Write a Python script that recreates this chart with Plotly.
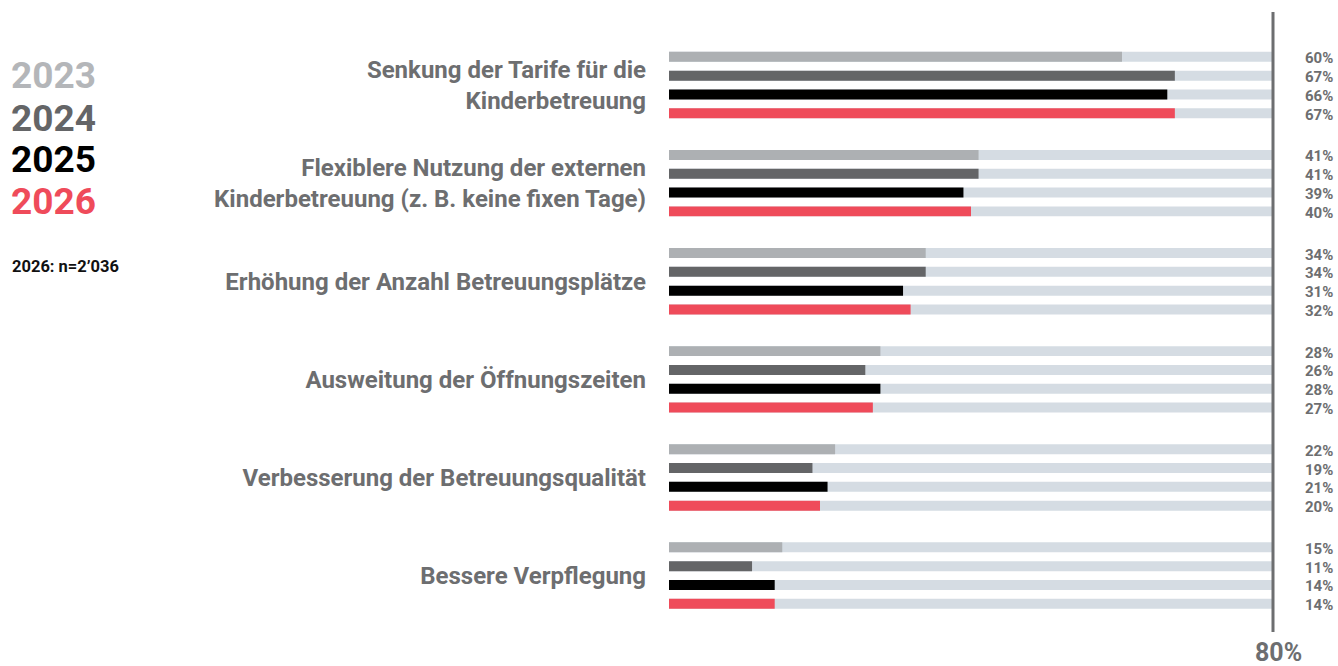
import plotly.graph_objects as go

categories = [
    "Senkung der Tarife für die<br>Kinderbetreuung",
    "Flexiblere Nutzung der externen<br>Kinderbetreuung (z. B. keine fixen Tage)",
    "Erhöhung der Anzahl Betreuungsplätze",
    "Ausweitung der Öffnungszeiten",
    "Verbesserung der Betreuungsqualität",
    "Bessere Verpflegung",
]
years = ["2023", "2024", "2025", "2026"]
values_2023 = [60, 41, 34, 28, 22, 15]
values_2024 = [67, 41, 34, 26, 19, 11]
values_2025 = [66, 39, 31, 28, 21, 14]
values_2026 = [67, 40, 32, 27, 20, 14]
series = [values_2023, values_2024, values_2025, values_2026]
axis_max = 80
sample_note = "2026: n=2’036"

bar_colors = ["#adb0b3", "#646567", "#000000", "#ef4b5a"]
legend_colors = ["#b4b6b9", "#646567", "#000000", "#ef4b5a"]
bg_color = "#d5dce3"
text_gray = "#6d6e70"
FONT = "Roboto"

W, H = 1338, 666
x0_px, x1_px = 669, 1273
y_top_px, y_bot_px = 36, 624.6

fig = go.Figure()

# background bars (full scale) on the lower axis
for j, yr in enumerate(years):
    fig.add_trace(go.Bar(
        y=categories, x=[axis_max] * len(categories), orientation="h",
        marker=dict(color=bg_color, line=dict(width=0)),
        showlegend=False, hoverinfo="skip",
    ))
# value bars on the overlaying axis (drawn on top)
for j, yr in enumerate(years):
    fig.add_trace(go.Bar(
        y=categories, x=series[j], orientation="h", name=yr,
        marker=dict(color=bar_colors[j], line=dict(width=0)),
        yaxis="y2", showlegend=False,
    ))

pitch = 18.8
annotations = []
for i, cat in enumerate(categories):
    for j in range(4):
        annotations.append(dict(
            x=1335 / W, xref="paper", xanchor="right",
            y=cat, yref="y", yshift=(1.5 - j) * pitch - 1.5, yanchor="middle",
            text=f"{series[j][i]}%", showarrow=False,
            font=dict(family=FONT, size=15, color=text_gray, weight="bold"),
        ))

legend_y = [76, 118, 159, 201]
for j, yr in enumerate(years):
    annotations.append(dict(
        x=9 / W, xref="paper", xanchor="left",
        y=1 - legend_y[j] / H, yref="paper", yanchor="middle",
        text=yr, showarrow=False,
        font=dict(family=FONT, size=37, color=legend_colors[j], weight="bold"),
    ))
annotations.append(dict(
    x=10 / W, xref="paper", xanchor="left",
    y=1 - 266 / H, yref="paper", yanchor="middle",
    text=sample_note, showarrow=False,
    font=dict(family=FONT, size=16.5, color="#111111", weight="bold"),
))
annotations.append(dict(
    x=axis_max, xref="x", xanchor="center", xshift=5,
    y=0, yref="paper", yanchor="bottom", yshift=-3,
    text=f"{axis_max}%", showarrow=False,
    font=dict(family=FONT, size=25, color=text_gray, weight="bold"),
))

# scale-end rule (paper-referenced so it is not clipped by the plot area)
fig.add_shape(type="line", xref="paper", yref="paper",
              x0=x1_px / W, x1=x1_px / W, y0=1 - 632 / H, y1=1 - 12 / H,
              line=dict(color=text_gray, width=3), layer="above")

ydom = [1 - y_bot_px / H, 1 - y_top_px / H]
fig.update_layout(
    width=W, height=H,
    margin=dict(l=0, r=0, t=0, b=0),
    paper_bgcolor="white", plot_bgcolor="white",
    barmode="group", bargap=0.233, bargroupgap=0.47,
    xaxis=dict(domain=[x0_px / W, x1_px / W], range=[0, axis_max],
               showgrid=False, zeroline=False, showticklabels=False, fixedrange=True),
    yaxis=dict(domain=ydom, categoryorder="array", categoryarray=categories,
               autorange="reversed", showgrid=False, zeroline=False,
               ticks="", ticklabelstandoff=22,
               tickfont=dict(family=FONT, size=24, color=text_gray, weight="bold")),
    yaxis2=dict(domain=ydom, overlaying="y", categoryorder="array", categoryarray=categories,
                autorange="reversed", showgrid=False, zeroline=False,
                showticklabels=False, matches="y"),
    annotations=annotations,
    showlegend=False,
)

fig.write_html("out.html", config={"displayModeBar": False},
               post_script="document.body.style.margin='0';document.body.style.overflow='hidden';")
